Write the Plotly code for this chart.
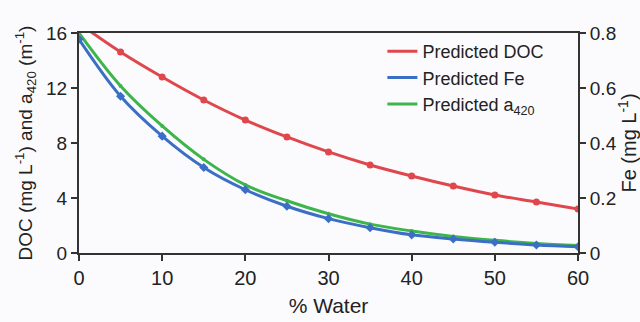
import plotly.graph_objects as go

water = [0, 5, 10, 15, 20, 25, 30, 35, 40, 45, 50, 55, 60]
doc = [16.7, 14.62, 12.8, 11.13, 9.67, 8.44, 7.35, 6.4, 5.6, 4.87, 4.22, 3.71, 3.2]
fe = [0.777, 0.57, 0.425, 0.311, 0.23, 0.17, 0.125, 0.092, 0.066, 0.051, 0.039, 0.029, 0.023]
a420 = [16.0, 12.15, 9.24, 6.81, 4.95, 3.8, 2.85, 2.1, 1.6, 1.2, 0.92, 0.7, 0.55]

x_ticks = [0, 10, 20, 30, 40, 50, 60]
y_ticks = [0, 4, 8, 12, 16]
y2_ticks = [0, 0.2, 0.4, 0.6, 0.8]
y2_labels = ["0", "0.2", "0.4", "0.6", "0.8"]

RED = "#e0474c"
BLUE = "#3b6fc6"
GREEN = "#3db54a"
AX = "#333333"
FONT = "Liberation Sans, Arial, sans-serif"

fig = go.Figure()
# lines (shown in legend)
fig.add_trace(go.Scatter(x=water, y=doc, name="Predicted DOC", mode="lines",
                         line=dict(color=RED, width=3, shape="spline")))
fig.add_trace(go.Scatter(x=water, y=fe, name="Predicted Fe", mode="lines", yaxis="y2",
                         line=dict(color=BLUE, width=3, shape="spline")))
fig.add_trace(go.Scatter(x=water, y=a420, name="Predicted a<sub>420</sub>", mode="lines",
                         line=dict(color=GREEN, width=3, shape="spline")))
# markers (not in legend)
fig.add_trace(go.Scatter(x=water, y=doc, mode="markers", showlegend=False, hoverinfo="skip",
                         marker=dict(size=7, color=RED)))
fig.add_trace(go.Scatter(x=water, y=fe, mode="markers", showlegend=False, yaxis="y2",
                         hoverinfo="skip", marker=dict(size=7, color=BLUE, symbol="diamond")))
fig.add_trace(go.Scatter(x=water, y=a420, mode="markers", showlegend=False, hoverinfo="skip",
                         marker=dict(size=4, color=GREEN)))

fig.update_layout(
    width=640, height=322,
    margin=dict(l=79, r=62, t=33, b=69),
    paper_bgcolor="#fbfbfd", plot_bgcolor="#fbfbfd",
    font=dict(family=FONT, size=18, color="#222222"),
    showlegend=True,
    legend=dict(x=0.608, y=1.0, xanchor="left", yanchor="top",
                bgcolor="rgba(0,0,0,0)", font=dict(size=18),
                itemwidth=30, tracegroupgap=0),
    xaxis=dict(range=[0, 60], tickvals=x_ticks, showline=True, linecolor=AX, linewidth=2,
               mirror=True, ticks="outside", ticklen=6, tickwidth=2, tickcolor=AX,
               showgrid=False, zeroline=False, automargin=False,
               title=dict(text="% Water", standoff=10, font=dict(size=21)),
               tickfont=dict(size=20)),
    yaxis=dict(range=[0, 16], tickvals=y_ticks, showline=True, linecolor=AX, linewidth=2,
               ticks="outside", ticklen=6, tickwidth=2, tickcolor=AX,
               showgrid=False, zeroline=False, tickfont=dict(size=19), automargin=False,
               title=dict(text="DOC (mg L<sup>-1</sup>) and a<sub>420</sub> (m<sup>-1</sup>)",
                          standoff=8, font=dict(size=19))),
    yaxis2=dict(range=[0, 0.8], tickvals=y2_ticks, ticktext=y2_labels, overlaying="y",
                side="right", showline=True, linecolor=AX, linewidth=2,
                ticks="outside", ticklen=6, tickwidth=2, tickcolor=AX, automargin=False,
                showgrid=False, zeroline=False, tickfont=dict(size=19),
                title=dict(text="Fe (mg L<sup>-1</sup>)", standoff=10, font=dict(size=20))),
)

fig.write_html("out.html")
